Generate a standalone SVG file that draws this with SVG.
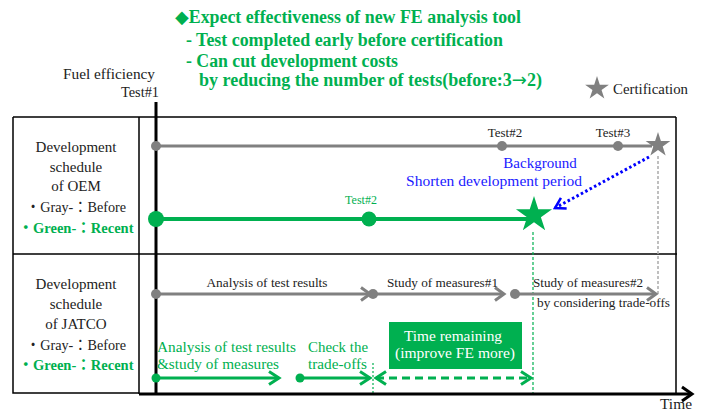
<svg xmlns="http://www.w3.org/2000/svg" width="704" height="412" viewBox="0 0 704 412">
<style>
text{font-family:"Liberation Serif","Times New Roman","DejaVu Serif","Noto Sans CJK JP",serif;}
.top{font-size:18px;font-weight:bold;fill:#00b050;}
.lab{font-size:15px;fill:#222;text-anchor:middle;}
.labg{font-size:15px;fill:#00b050;font-weight:bold;text-anchor:middle;}
.sm{font-size:13px;fill:#222;}
.gt{font-size:15px;fill:#00b050;}
.wt{font-size:15px;fill:#fff;text-anchor:middle;}
.bl{font-size:15px;fill:#1a1aff;}
.frame{stroke:#000;stroke-width:1.5;fill:none;}
.gray{stroke:#808080;stroke-width:3;fill:none;}
.green{stroke:#00b050;stroke-width:3;fill:none;}
.arw{font-family:"DejaVu Sans",sans-serif;font-weight:normal;}
</style>
<defs>
<path id="star" d="M0,-1 L0.2245,-0.309 L0.9511,-0.309 L0.3633,0.118 L0.5878,0.809 L0,0.382 L-0.5878,0.809 L-0.3633,0.118 L-0.9511,-0.309 L-0.2245,-0.309 Z"/>
<marker id="chG" markerUnits="userSpaceOnUse" markerWidth="24" markerHeight="24" viewBox="-12 -12 24 24" refX="0" refY="0" orient="auto" overflow="visible">
<path d="M-9,-6.5 L0,0 L-9,6.5" fill="none" stroke="#808080" stroke-width="3"/>
</marker>
<marker id="chN" markerUnits="userSpaceOnUse" markerWidth="24" markerHeight="24" viewBox="-12 -12 24 24" refX="0" refY="0" orient="auto-start-reverse" overflow="visible">
<path d="M-10,-6.5 L0,0 L-10,6.5" fill="none" stroke="#00b050" stroke-width="3"/>
</marker>
<marker id="chB" markerUnits="userSpaceOnUse" markerWidth="24" markerHeight="24" viewBox="-12 -12 24 24" refX="0" refY="0" orient="auto" overflow="visible">
<path d="M-10,-6 L0,0 L-10,6" fill="none" stroke="#0000ff" stroke-width="2.5"/>
</marker>
<marker id="chK" markerUnits="userSpaceOnUse" markerWidth="24" markerHeight="24" viewBox="-12 -12 24 24" refX="0" refY="0" orient="auto" overflow="visible">
<path d="M-10,-7 L0,0 L-10,7" fill="none" stroke="#000" stroke-width="3"/>
</marker>
</defs>

<g id="header">
<text class="top" x="175" y="23" textLength="346" lengthAdjust="spacingAndGlyphs">◆Expect effectiveness of new FE analysis tool</text>
<text class="top" x="186" y="46" textLength="317" lengthAdjust="spacingAndGlyphs">- Test completed early before certification</text>
<text class="top" x="186" y="67" textLength="212" lengthAdjust="spacingAndGlyphs">- Can cut development costs</text>
<text class="top" x="199" y="86" textLength="343" lengthAdjust="spacingAndGlyphs">by reducing the number of tests(before:3<tspan class="arw">→</tspan>2)</text>
</g>

<g id="axis-labels">
<text x="155" y="79" font-size="15" fill="#222" text-anchor="end" textLength="92" lengthAdjust="spacingAndGlyphs">Fuel efficiency</text>
<text x="159" y="97" font-size="14" fill="#222" text-anchor="end" textLength="38" lengthAdjust="spacingAndGlyphs">Test#1</text>
<text x="660" y="409" font-size="15" fill="#222" textLength="32" lengthAdjust="spacingAndGlyphs">Time</text>
</g>

<g id="legend">
<use href="#star" transform="translate(597,88.5) scale(12.5)" fill="#808080"/>
<text x="613" y="94" font-size="15" fill="#222" textLength="75" lengthAdjust="spacingAndGlyphs">Certification</text>
</g>

<g id="frame">
<path class="frame" d="M13,117 L676,117 M13,117 L13,393 L139,393 M139,117 L139,394 M13,254 L677,254 M676,117 L676,393"/>
</g>

<g id="row-labels">
<g id="oem-label">
<text class="lab" x="76" y="152">Development</text>
<text class="lab" x="76" y="172">schedule</text>
<text class="lab" x="76" y="191">of OEM</text>
<text class="lab" x="76" y="212" textLength="100" lengthAdjust="spacingAndGlyphs">・Gray-：Before</text>
<text class="labg" x="76" y="233" textLength="115" lengthAdjust="spacingAndGlyphs">・Green-：Recent</text>
</g>
<g id="jatco-label">
<text class="lab" x="76" y="289">Development</text>
<text class="lab" x="76" y="309">schedule</text>
<text class="lab" x="76" y="329">of JATCO</text>
<text class="lab" x="76" y="350" textLength="100" lengthAdjust="spacingAndGlyphs">・Gray-：Before</text>
<text class="labg" x="76" y="370" textLength="115" lengthAdjust="spacingAndGlyphs">・Green-：Recent</text>
</g>
</g>

<g id="connectors">
<line x1="658" y1="156" x2="658" y2="294" stroke="#aaaaaa" stroke-width="1.5" stroke-dasharray="3,2"/>
<line x1="533" y1="232" x2="533" y2="394" stroke="#00b050" stroke-width="1.2" stroke-dasharray="3,2"/>
<line x1="373" y1="363" x2="373" y2="394" stroke="#00b050" stroke-width="1.2" stroke-dasharray="2,2"/>
<line class="gray" x1="156" y1="146" x2="652" y2="146"/>
<line x1="156" y1="219" x2="530" y2="219" stroke="#00b050" stroke-width="4"/>
<path d="M649,157 L555,208" fill="none" stroke="#0000ff" stroke-width="3" stroke-dasharray="2.5,2.5" marker-end="url(#chB)"/>
<line class="gray" x1="156" y1="294" x2="370" y2="294" marker-end="url(#chG)"/>
<line class="gray" x1="373" y1="294" x2="504" y2="294" marker-end="url(#chG)"/>
<line class="gray" x1="515" y1="294" x2="656" y2="294" marker-end="url(#chG)"/>
<line class="green" x1="156" y1="378" x2="279" y2="378" marker-end="url(#chN)"/>
<line class="green" x1="300" y1="378" x2="370" y2="378" marker-end="url(#chN)"/>
<line class="green" x1="376" y1="378" x2="531" y2="378" stroke-dasharray="8,5" marker-start="url(#chN)" marker-end="url(#chN)"/>
<line x1="156" y1="102" x2="156" y2="395" stroke="#000" stroke-width="3"/>
<line x1="139" y1="394" x2="692" y2="394" stroke="#000" stroke-width="3" marker-end="url(#chK)"/>
</g>

<g id="oem-nodes">
<circle cx="156" cy="146" r="5" fill="#808080"/>
<circle cx="502" cy="146" r="5" fill="#808080"/>
<circle cx="618" cy="146" r="5" fill="#808080"/>
<text class="sm" x="505" y="137" text-anchor="middle">Test#2</text>
<text class="sm" x="613" y="137" text-anchor="middle">Test#3</text>
<use href="#star" transform="translate(658,145) scale(13)" fill="#808080"/>
<circle cx="156" cy="219" r="8" fill="#00b050"/>
<circle cx="369" cy="219" r="7.5" fill="#00b050"/>
<text x="361" y="204" font-size="12" fill="#00b050" text-anchor="middle">Test#2</text>
<use href="#star" transform="translate(534,215) scale(19)" fill="#00b050"/>
<text class="bl" x="540" y="168" text-anchor="middle">Background</text>
<text class="bl" x="494" y="186" text-anchor="middle" textLength="176" lengthAdjust="spacingAndGlyphs">Shorten development period</text>
</g>

<g id="jatco-nodes">
<circle cx="156" cy="294" r="5" fill="#808080"/>
<circle cx="373" cy="294" r="5" fill="#808080"/>
<circle cx="515" cy="294" r="5" fill="#808080"/>
<text class="sm" x="267" y="287" text-anchor="middle" textLength="121" lengthAdjust="spacingAndGlyphs">Analysis of test results</text>
<text class="sm" x="387" y="287" textLength="111" lengthAdjust="spacingAndGlyphs">Study of measures#1</text>
<text class="sm" x="533" y="287" textLength="110" lengthAdjust="spacingAndGlyphs">Study of measures#2</text>
<text class="sm" x="537" y="307" textLength="133" lengthAdjust="spacingAndGlyphs">by considering trade-offs</text>
<circle cx="156" cy="378" r="4.5" fill="#00b050"/>
<circle cx="300" cy="378" r="4.5" fill="#00b050"/>
<text class="gt" x="157" y="352" textLength="139" lengthAdjust="spacingAndGlyphs">Analysis of test results</text>
<text class="gt" x="157" y="369" textLength="122" lengthAdjust="spacingAndGlyphs">&amp;study of measures</text>
<text class="gt" x="308" y="352" textLength="60" lengthAdjust="spacingAndGlyphs">Check the</text>
<text class="gt" x="308" y="369" textLength="59" lengthAdjust="spacingAndGlyphs">trade-offs</text>
</g>

<g id="time-remaining">
<rect x="389" y="322" width="133" height="47" fill="#00b050"/>
<text class="wt" x="453" y="341" textLength="98" lengthAdjust="spacingAndGlyphs">Time remaining</text>
<text class="wt" x="455" y="358" textLength="120" lengthAdjust="spacingAndGlyphs">(improve FE more)</text>
</g>
</svg>
